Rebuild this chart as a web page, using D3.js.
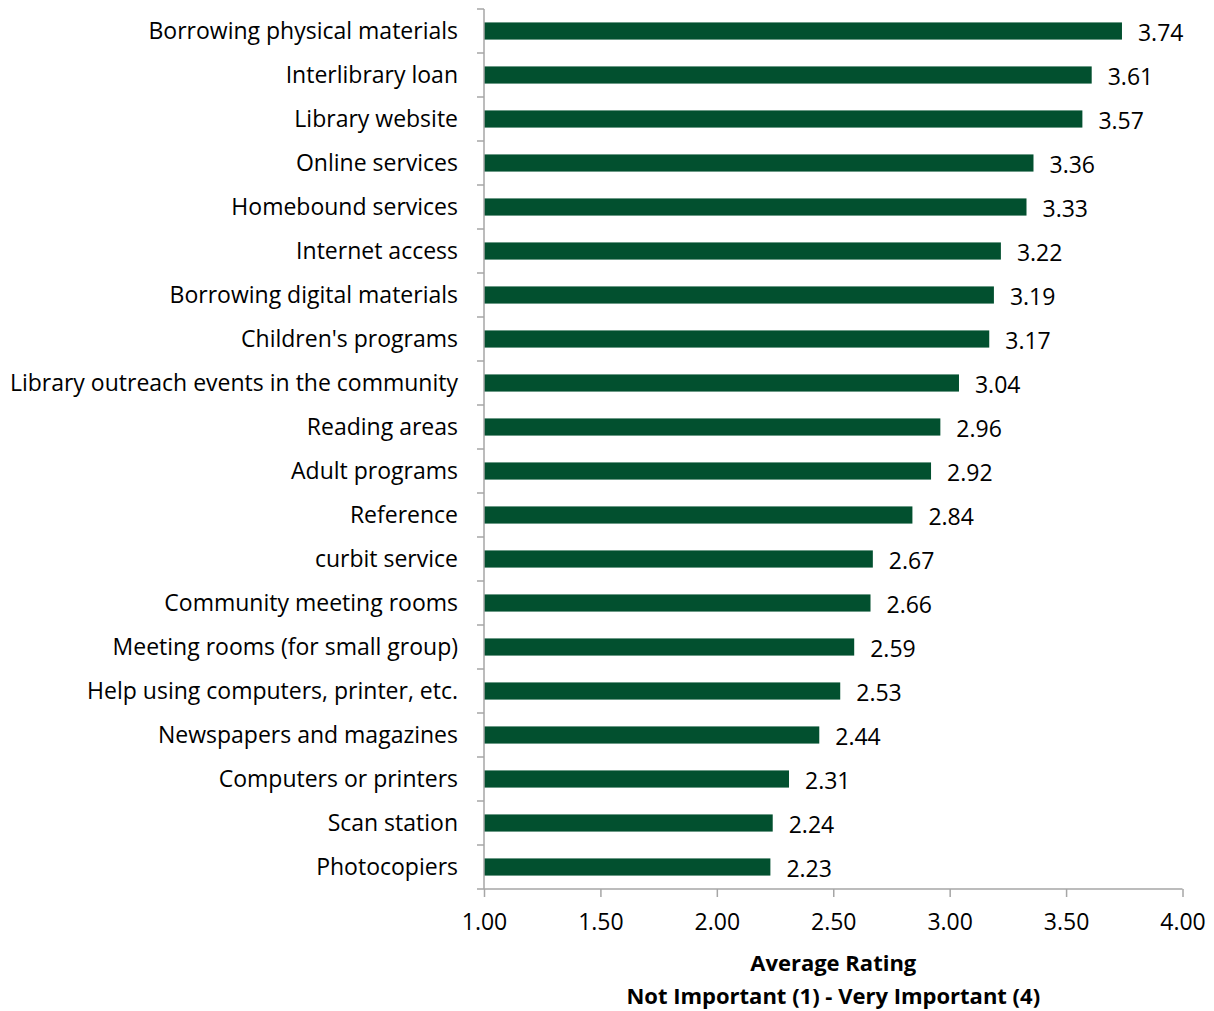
<!DOCTYPE html>
<html>
<head>
<meta charset="utf-8">
<script src="https://cdn.jsdelivr.net/npm/d3@7"></script>
<style>
  body { margin: 0; background: #fff; }
  text { font-family: "Open Sans", Lato, sans-serif; fill: #000; }
</style>
</head>
<body>
<script>
// Data
const categories = [
  "Borrowing physical materials",
  "Interlibrary loan",
  "Library website",
  "Online services",
  "Homebound services",
  "Internet access",
  "Borrowing digital materials",
  "Children's programs",
  "Library outreach events in the community",
  "Reading areas",
  "Adult programs",
  "Reference",
  "curbit service",
  "Community meeting rooms",
  "Meeting rooms (for small group)",
  "Help using computers, printer, etc.",
  "Newspapers and magazines",
  "Computers or printers",
  "Scan station",
  "Photocopiers"
];
const ratings = [3.74, 3.61, 3.57, 3.36, 3.33, 3.22, 3.19, 3.17, 3.04, 2.96,
  2.92, 2.84, 2.67, 2.66, 2.59, 2.53, 2.44, 2.31, 2.24, 2.23];
const xTicks = [1.0, 1.5, 2.0, 2.5, 3.0, 3.5, 4.0];
const axisTitle = ["Average Rating", "Not Important (1) - Very Important (4)"];

const w = 1214;
const h = 1011;
const plotLeft = 484, plotRight = 1182.5, plotTop = 9, plotBottom = 889;
const fontSize = 23;
const barColor = "#02502f";
const axisColor = "#a6a6a6";

const svg = d3.select("body").append("svg")
  .attr("width", w)
  .attr("height", h);

const x = d3.scaleLinear().domain([1, 4]).range([plotLeft, plotRight]);
const y = d3.scaleBand().domain(categories).range([plotTop, plotBottom])
  .paddingInner(0.61).paddingOuter(0.305);

// bars
svg.selectAll("rect.bar")
  .data(categories)
  .enter()
  .append("rect")
  .attr("class", "bar")
  .attr("x", x(1))
  .attr("y", (d) => y(d))
  .attr("width", (d, i) => x(ratings[i]) - x(1))
  .attr("height", y.bandwidth())
  .attr("fill", barColor);

// value labels
svg.selectAll("text.val")
  .data(categories)
  .enter()
  .append("text")
  .attr("class", "val")
  .attr("x", (d, i) => x(ratings[i]) + 16)
  .attr("y", (d) => y(d) + y.bandwidth() / 2 + 3.5)
  .attr("dominant-baseline", "middle")
  .style("font-size", fontSize + "px")
  .text((d, i) => ratings[i].toFixed(2));

// y axis (category boundaries as ticks)
const yAxisG = svg.append("g");
yAxisG.append("line")
  .attr("x1", plotLeft).attr("x2", plotLeft)
  .attr("y1", plotTop).attr("y2", plotBottom)
  .attr("stroke", axisColor).attr("stroke-width", 1.5);
const step = y.step();
const bounds = d3.range(categories.length + 1).map((i) => plotTop + i * step);
yAxisG.selectAll("line.tick")
  .data(bounds)
  .enter()
  .append("line")
  .attr("x1", plotLeft - 7).attr("x2", plotLeft)
  .attr("y1", (d) => d).attr("y2", (d) => d)
  .attr("stroke", axisColor).attr("stroke-width", 1.5);
yAxisG.selectAll("text.cat")
  .data(categories)
  .enter()
  .append("text")
  .attr("class", "cat")
  .attr("x", plotLeft - 26)
  .attr("y", (d) => y(d) + y.bandwidth() / 2 + 2)
  .attr("text-anchor", "end")
  .attr("dominant-baseline", "middle")
  .style("font-size", fontSize + "px")
  .text((d) => d);

// x axis
const xAxis = d3.axisBottom(x)
  .tickValues(xTicks)
  .tickFormat(d3.format(".2f"))
  .tickSize(8)
  .tickPadding(17);
const xAxisG = svg.append("g")
  .attr("transform", "translate(0," + plotBottom + ")")
  .call(xAxis);
xAxisG.select(".domain")
  .attr("stroke", axisColor).attr("stroke-width", 1.5)
  .attr("d", "M" + plotLeft + ",0H" + plotRight);
xAxisG.selectAll(".tick line").attr("stroke", axisColor).attr("stroke-width", 1.5);
xAxisG.selectAll(".tick text")
  .style("font-size", fontSize + "px")
  .style("font-family", "'Open Sans', Lato, sans-serif")
  .attr("fill", "#000");

// axis title
svg.selectAll("text.title")
  .data(axisTitle)
  .enter()
  .append("text")
  .attr("class", "title")
  .attr("x", (plotLeft + plotRight) / 2)
  .attr("y", (d, i) => 965 + i * 33)
  .attr("text-anchor", "middle")
  .attr("dominant-baseline", "middle")
  .style("font-size", "22px")
  .style("font-weight", "bold")
  .text((d) => d);
</script>
</body>
</html>
